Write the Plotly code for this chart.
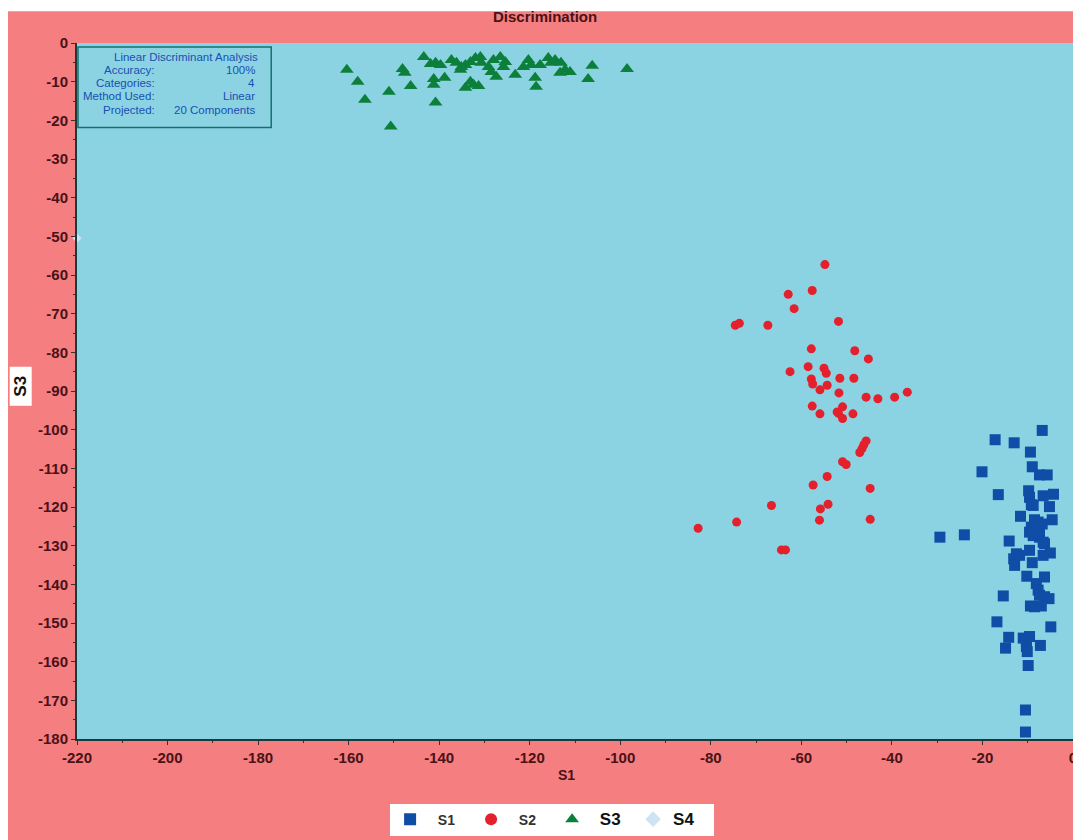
import plotly.graph_objects as go

# ---------------- data ----------------
s1_x = [-6.8, -17.2, -13.0, -9.4, -20.1, -9.0, -7.4, -5.7, -16.5, -9.8, -9.6, -9.2, -8.8, -6.6, -4.3,
        -5.2, -11.6, -4.6, -8.5, -7.7, -6.8, -9.2, -8.5, -7.4, -9.6, -8.8, -7.4, -6.6, -6.3, -29.4,
        -24.0, -14.1, -9.6, -12.5, -11.8, -13.1, -12.9, -6.6, -5.0, -9.0, -10.2, -6.3, -8.1, -7.7,
        -7.4, -6.3, -5.3, -9.4, -8.5, -7.0, -15.4, -16.8, -4.9, -14.2, -11.0, -10.3, -9.6, -10.3,
        -10.1, -14.9, -7.2, -9.9, -10.5, -10.5]
s1_y = [-100.2, -102.6, -103.4, -105.8, -110.9, -109.6, -111.7, -111.7, -116.8, -115.8, -117.5, -119.4,
        -119.6, -117.1, -116.7, -119.9, -122.4, -123.3, -123.3, -123.9, -124.4, -125.2, -125.7, -125.2,
        -126.5, -127.4, -127.8, -129.1, -129.5, -127.8, -127.2, -128.8, -131.2, -132.1, -132.5, -133.4,
        -135.1, -132.5, -131.9, -134.4, -137.9, -138.1, -139.8, -141.5, -142.8, -143.2, -143.7, -145.6,
        -145.8, -145.6, -143.0, -149.7, -151.0, -153.7, -153.9, -154.4, -153.5, -156.1, -157.4, -156.5,
        -155.8, -161.0, -172.5, -178.2]

s2_x = [-54.8, -62.9, -57.6, -61.6, -74.6, -73.7, -67.4, -51.8, -57.8, -48.2, -45.2, -62.5, -58.5,
        -55.0, -54.5, -51.5, -48.4, -57.8, -57.5, -55.9, -54.3, -51.7, -45.7, -43.1, -39.4, -36.6,
        -57.6, -55.9, -52.1, -51.8, -50.9, -50.9, -48.6, -45.7, -46.2, -46.6, -47.1, -50.9, -50.1,
        -54.3, -57.4, -44.8, -66.6, -55.8, -54.1, -74.3, -56.0, -44.8, -82.8, -64.4, -63.5]
s2_y = [-57.3, -65.0, -64.0, -68.7, -73.0, -72.5, -73.0, -72.0, -79.1, -79.6, -81.7, -85.0, -83.7,
        -84.1, -85.4, -86.7, -86.7, -86.9, -88.2, -89.7, -88.5, -90.5, -91.6, -92.0, -91.6, -90.3,
        -93.9, -95.9, -95.4, -95.8, -94.1, -97.1, -95.9, -102.9, -103.9, -104.9, -105.9, -108.3,
        -109.0, -112.1, -114.3, -115.2, -119.6, -120.5, -119.3, -123.9, -123.4, -123.2, -125.5,
        -131.1, -131.1]

s3_x = [-160.4, -158.0, -156.4, -151.1, -150.7, -148.1, -147.6, -146.3, -143.4, -141.9, -140.8, -139.7,
        -141.2, -141.2, -138.8, -140.8, -137.3, -136.2, -135.1, -135.3, -134.2, -133.1, -132.0, -130.9,
        -130.7, -134.2, -133.1, -132.4, -131.3, -129.1, -128.5, -127.4, -128.0, -126.5, -125.4, -125.8,
        -123.2, -121.4, -120.3, -119.7, -118.8, -118.6, -117.7, -115.9, -115.3, -114.4, -113.1, -112.2,
        -111.1, -113.3, -107.1, -106.2, -98.5]
s3_y = [-6.9, -10.0, -14.7, -12.6, -21.6, -6.7, -7.7, -11.1, -3.6, -5.4, -5.1, -5.7, -9.3, -10.8, -9.0,
        -15.4, -4.4, -5.1, -6.2, -6.9, -5.7, -4.9, -3.9, -3.6, -5.1, -11.6, -10.0, -10.8, -11.1, -6.2,
        -7.5, -8.7, -4.4, -3.6, -4.9, -6.2, -8.2, -6.2, -4.4, -5.7, -9.0, -11.3, -5.7, -3.9, -5.1, -4.4,
        -5.1, -6.9, -7.5, -7.7, -9.3, -5.9, -6.7]

s4_x = [-220.0]
s4_y = [-50.5]

x_tick_vals = list(range(-220, 1, 20))
x_tick_text = [str(v) for v in x_tick_vals]
y_tick_vals = list(range(-180, 1, 10))
y_tick_text = [str(v) for v in y_tick_vals]

info_labels = ["Accuracy:", "Categories:", "Method Used:", "Projected:"]
info_values = ["100%", "4", "Linear", "20 Components"]

# ---------------- figure ----------------
PINK = "#f47e80"
BG = "#8bd3e3"
TICK = "#4a1216"
FONT = "Liberation Sans"
PAD = "&nbsp;&nbsp;"

fig = go.Figure()
fig.add_trace(go.Scatter(x=s1_x, y=s1_y, mode="markers", name=PAD + "S1",
                         marker=dict(symbol="square", size=11, color="#0f4da6")))
fig.add_trace(go.Scatter(x=s2_x, y=s2_y, mode="markers", name=PAD + "S2",
                         marker=dict(symbol="circle", size=9, color="#e3202b")))
fig.add_trace(go.Scatter(x=s3_x, y=s3_y, mode="markers",
                         name=PAD + "<span style='font-size:17px;color:#111'><b>S3</b></span>",
                         marker=dict(symbol="triangle-up", size=12, color="#0c7f3b")))
fig.add_trace(go.Scatter(x=s4_x, y=s4_y, mode="markers", cliponaxis=False,
                         name="<span style='font-size:17px;color:#111'><b>S4</b></span>",
                         marker=dict(symbol="diamond", size=7, color="#cfe4f2")))

axis_common = dict(showgrid=False, zeroline=False, showline=True, linecolor="#1d3a3a", linewidth=2,
                   ticks="outside", ticklen=4, tickcolor="#3a3030", mirror=False,
                   tickfont=dict(family=FONT, size=15, color=TICK, weight="bold"))
fig.update_xaxes(range=[-220, 0], tickmode="array", tickvals=x_tick_vals, ticktext=x_tick_text,
                 **axis_common,
                 minor=dict(ticks="outside", ticklen=2, tickmode="linear", tick0=0, dtick=10,
                            tickcolor="#3a3030"))
fig.update_yaxes(range=[-180, 0], tickmode="array", tickvals=y_tick_vals, ticktext=y_tick_text,
                 **axis_common,
                 minor=dict(ticks="outside", ticklen=2, tickmode="linear", tick0=0, dtick=5,
                            tickcolor="#3a3030"))

fig.update_layout(
    width=1081, height=840,
    margin=dict(l=69, r=12, t=35, b=103),
    paper_bgcolor=PINK, plot_bgcolor=BG,
    showlegend=True,
    legend=dict(orientation="h", x=0.477, y=(743 - 824) / 700, xanchor="center", yanchor="middle",
                bgcolor="white", font=dict(family=FONT, size=14, color="#333", weight="bold"),
                entrywidth=36, entrywidthmode="pixels", itemsizing="constant"),
)

# thin white strip at top edge
fig.add_shape(type="rect", xref="paper", yref="paper", x0=-0.1, x1=1.02,
              y0=(743 - 11) / 700, y1=(743 - 7) / 700,
              fillcolor="white", line_width=0, layer="above")

# title
fig.add_annotation(text="<b>Discrimination</b>", xref="paper", yref="paper", x=0.47, y=(743 - 16) / 700,
                   xanchor="center", yanchor="middle", showarrow=False,
                   font=dict(family=FONT, size=15, color="#4a1216"))

# x-axis title
fig.add_annotation(text="<b>S1</b>", xref="paper", yref="paper", x=(568 - 77) / 1000, y=(743 - 779) / 700,
                   xanchor="center", yanchor="middle", showarrow=False,
                   font=dict(family=FONT, size=14, color=TICK))

# y-axis title in white box
fig.add_annotation(text="<b>S3</b>", xref="paper", yref="paper", x=(20 - 77) / 1000, y=(743 - 388) / 700,
                   xanchor="center", yanchor="middle", showarrow=False, textangle=-90,
                   width=36, height=19, bgcolor="white", borderpad=1,
                   font=dict(family=FONT, size=17, color="#111"))

# info box
fig.add_shape(type="rect", xref="x domain", yref="y domain",
              x0=1 / 1000, x1=195 / 1000, y0=(743 - 128) / 700, y1=(743 - 47) / 700,
              line=dict(color="#17706e", width=1.5), fillcolor="rgba(0,0,0,0)")
blue_txt = dict(family=FONT, size=11.5, color="#1a4fb0")
fig.add_annotation(text="Linear Discriminant Analysis", xref="x domain", yref="y domain",
                   x=184 / 1000, y=(743 - 57) / 700, xanchor="right", yanchor="middle",
                   showarrow=False, font=blue_txt)
for i, (lab, val) in enumerate(zip(info_labels, info_values)):
    yy = (743 - (70 + i * 13.3)) / 700
    fig.add_annotation(text=lab, xref="x domain", yref="y domain", x=80 / 1000, y=yy,
                       xanchor="right", yanchor="middle", showarrow=False, font=blue_txt)
    fig.add_annotation(text=val, xref="x domain", yref="y domain", x=181 / 1000, y=yy,
                       xanchor="right", yanchor="middle", showarrow=False, font=blue_txt)

fig.write_html("out.html")
